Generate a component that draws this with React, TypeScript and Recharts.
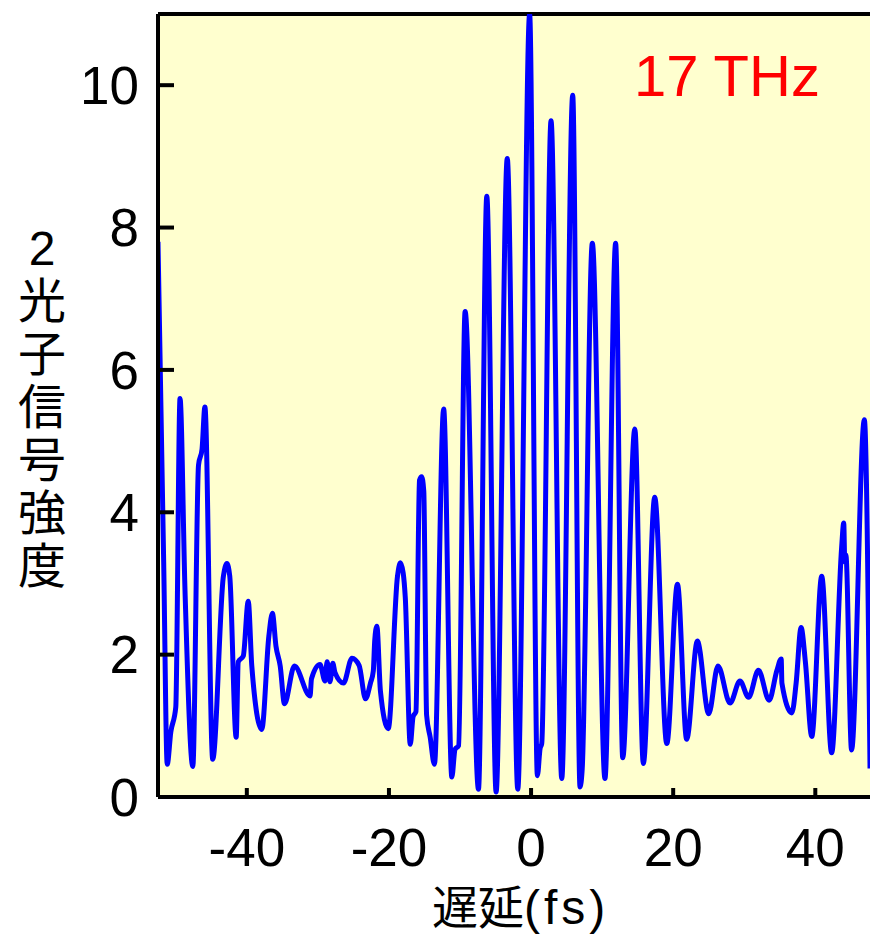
import React from "react";
import { LineChart, Line, XAxis, YAxis, CartesianGrid, ReferenceLine } from "recharts";

// delay (fs) and two-photon signal
const delay = [
  -52.5, -51.7, -51.2, -50.7, -50.0, -49.4, -48.7, -47.6, -46.8, -46.3, -45.9, -44.8,
  -43.3, -42.8, -42.4, -41.5, -41.2, -40.5, -39.8, -39.3, -37.9, -36.9, -36.4, -35.9,
  -35.3, -34.7, -33.3, -31.1, -30.9, -29.7, -29.0, -28.7, -28.3, -27.9, -27.6, -26.4,
  -25.2, -24.2, -23.3, -22.6, -22.2, -22.0, -21.7, -21.2, -20.1, -18.8, -18.4, -18.0,
  -17.7, -17.0, -16.6, -16.2, -15.7, -15.4, -15.1, -14.7, -14.2, -13.6, -12.3, -11.15,
  -10.7, -10.2, -9.28, -7.4, -6.23, -4.92, -3.35, -1.87, -0.2, 0.89, 1.27, 1.5,
  2.81, 4.32, 5.86, 6.89, 7.2, 8.62, 10.4, 11.9, 12.9, 14.6, 15.8, 17.4,
  19.1, 20.6, 21.9, 23.4, 25.0, 26.3, 28.0, 29.4, 30.6, 32.0, 33.5, 34.6,
  35.2, 35.3, 36.7, 37.3, 38.0, 38.6, 39.5, 40.9, 42.3, 43.7, 44.0, 44.15,
  44.3, 45.1, 46.9, 47.7,
];
const signal = [
  7.8, 3.3, 0.46, 0.91, 1.26, 5.6, 2.9, 0.43, 4.66, 4.89, 5.48, 0.53,
  3.1, 3.28, 3.1, 0.84, 1.9, 1.98, 2.75, 1.84, 0.95, 2.26, 2.58, 2.12,
  1.84, 1.31, 1.84, 1.42, 1.66, 1.86, 1.63, 1.9, 1.62, 1.88, 1.75, 1.6,
  1.95, 1.85, 1.38, 1.6, 1.77, 2.2, 2.4, 1.49, 0.96, 3.1, 3.29, 3.15,
  2.8, 0.74, 1.13, 1.2, 4.45, 4.5, 4.3, 1.15, 0.84, 0.46, 5.45, 0.28,
  0.67, 0.72, 6.82, 0.11, 8.44, 0.07, 8.97, 0.11, 11.0, 0.3, 0.68, 0.75,
  9.5, 0.26, 9.86, 0.14, 0.4, 7.78, 0.26, 7.78, 0.55, 5.17, 0.47, 4.21,
  0.75, 2.99, 0.81, 2.19, 1.17, 1.84, 1.32, 1.63, 1.4, 1.78, 1.36, 1.78,
  1.94, 1.6, 1.18, 1.6, 2.38, 1.9, 0.85, 3.1, 0.62, 3.5, 3.85, 3.3,
  3.4, 0.66, 5.3, 0.4,
];

const xTicks = [-40, -20, 0, 20, 40];
const yTicks = [0, 2, 4, 6, 8, 10];
const yTitle = ["2", "光", "子", "信", "号", "強", "度"];

const data = delay.map((x, i) => ({ x, y: signal[i] }));

const latin = "'Liberation Sans', Arial, sans-serif";
const cjk = "'Liberation Sans', 'Noto Sans CJK JP', sans-serif";

export default function App() {
  return (
    <div
      style={{
        position: "absolute",
        left: 0,
        top: 0,
        width: 870,
        height: 941,
        overflow: "hidden",
        background: "#ffffff",
      }}
    >
      <LineChart
        width={880}
        height={941}
        data={data}
        margin={{ top: 14, right: 5, bottom: 0, left: 58 }}
      >
        <CartesianGrid fill="#ffffcf" horizontal={false} vertical={false} />
        <XAxis
          dataKey="x"
          type="number"
          domain={[-52.5, 48.4]}
          ticks={xTicks}
          allowDataOverflow
          height={144}
          tickSize={-9}
          tickMargin={40}
          axisLine={{ stroke: "#000", strokeWidth: 4 }}
          tickLine={{ stroke: "#000", strokeWidth: 4 }}
          tick={{ fill: "#000", fontSize: 53, fontFamily: latin }}
        />
        <YAxis
          type="number"
          domain={[0, 11]}
          ticks={yTicks}
          allowDataOverflow
          width={100}
          tickSize={-16}
          tickMargin={35}
          axisLine={{ stroke: "#000", strokeWidth: 4 }}
          tickLine={{ stroke: "#000", strokeWidth: 4 }}
          tick={{ fill: "#000", fontSize: 53, fontFamily: latin }}
        />
        <ReferenceLine y={11} stroke="#000" strokeWidth={4} />
        <Line
          type="monotone"
          dataKey="y"
          stroke="#0000ff"
          strokeWidth={5}
          dot={false}
          strokeLinejoin="round"
          isAnimationActive={false}
        />
      </LineChart>
      <svg
        width={870}
        height={941}
        style={{ position: "absolute", left: 0, top: 0, pointerEvents: "none" }}
      >
        <text x={634} y={96} fill="#ff0000" fontSize={58} fontFamily={latin}>
          17 THz
        </text>
        {yTitle.map((ch, i) => (
          <text
            key={i}
            x={42}
            y={265 + i * 53}
            textAnchor="middle"
            fontSize={48}
            fontFamily={cjk}
            fill="#000"
          >
            {ch}
          </text>
        ))}
        <text x={432} y={924} fontSize={46} fill="#000">
          <tspan fontFamily="'Noto Sans CJK JP', sans-serif">遅延</tspan>
          <tspan fontFamily={latin} fontSize={48} letterSpacing={4}>
            (fs)
          </tspan>
        </text>
      </svg>
    </div>
  );
}
